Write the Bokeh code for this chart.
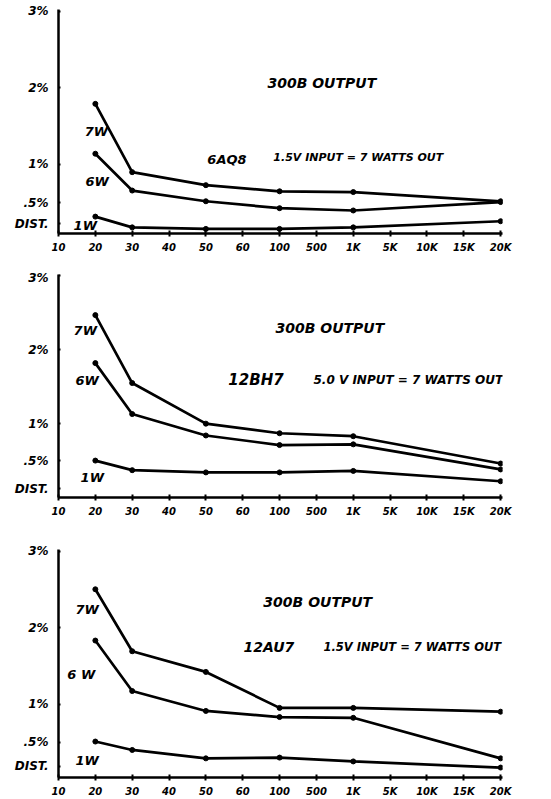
from bokeh.plotting import figure
from bokeh.layouts import column
from bokeh.models import Label, FixedTicker, Range1d
from bokeh.embed import file_html
from bokeh.resources import INLINE

# ---- data ----
freq_labels = ["10", "20", "30", "40", "50", "60", "100", "500", "1K", "5K", "10K", "15K", "20K"]
meas_freqs = ["20", "30", "50", "100", "1K", "20K"]
y_ticks = [0.5, 1, 2, 3]
y_tick_labels = [".5%", "1%", "2%", "3%"]

# panel 1: 6AQ8 driver
p1_7w = [1.79, 0.90, 0.73, 0.65, 0.64, 0.52]
p1_6w = [1.14, 0.66, 0.52, 0.43, 0.40, 0.51]
p1_1w = [0.32, 0.18, 0.16, 0.16, 0.18, 0.26]

# panel 2: 12BH7 driver
p2_7w = [2.47, 1.55, 1.00, 0.87, 0.83, 0.46]
p2_6w = [1.82, 1.13, 0.84, 0.71, 0.72, 0.38]
p2_1w = [0.50, 0.37, 0.34, 0.34, 0.36, 0.22]

# panel 3: 12AU7 driver
p3_7w = [2.50, 1.69, 1.42, 0.95, 0.95, 0.90]
p3_6w = [1.83, 1.17, 0.91, 0.83, 0.82, 0.29]
p3_1w = [0.51, 0.40, 0.29, 0.30, 0.25, 0.17]

titles = ["300B OUTPUT", "300B OUTPUT", "300B OUTPUT"]
tubes = ["6AQ8", "12BH7", "12AU7"]
drive_notes = ["1.5V INPUT = 7 WATTS OUT", "5.0 V INPUT = 7 WATTS OUT", "1.5V INPUT = 7 WATTS OUT"]
series_names = [["7W", "6W", "1W"], ["7W", "6W", "1W"], ["7W", "6 W", "1W"]]
dist_label = "DIST."

FONT = "DejaVu Sans"

xs = [freq_labels.index(f) for f in meas_freqs]


def panel(series, names, height, top, bottom, yr, title, tube, tube_size, note, note_size,
          tpos, npos, tubepos, namepos, dist_y):
    p = figure(width=551, height=height, output_backend="svg", toolbar_location=None,
               x_range=Range1d(0, 12.05), y_range=Range1d(*yr),
               min_border_left=58, min_border_right=49,
               min_border_top=top, min_border_bottom=bottom)
    p.outline_line_color = None
    p.grid.visible = False
    p.background_fill_color = "white"
    p.border_fill_color = "white"

    p.xaxis.ticker = FixedTicker(ticks=list(range(len(freq_labels))))
    p.xaxis.major_label_overrides = {i: l for i, l in enumerate(freq_labels)}
    yt = [dist_y] + y_ticks
    p.yaxis.ticker = FixedTicker(ticks=yt)
    p.yaxis.major_label_overrides = {t: l for t, l in zip(yt, [dist_label] + y_tick_labels)}
    for ax in (p.xaxis, p.yaxis):
        ax.axis_line_width = 2.5
        ax.axis_line_color = "black"
        ax.major_tick_line_width = 2
        ax.major_tick_line_color = "black"
        ax.minor_tick_line_color = None
        ax.major_label_text_font = FONT
        ax.major_label_text_font_style = "bold italic"
        ax.major_label_text_color = "black"
    p.xaxis.major_tick_in = 3
    p.xaxis.major_tick_out = 3
    p.yaxis.major_tick_in = 2
    p.yaxis.major_tick_out = 0
    p.xaxis.major_label_text_font_size = "10px"
    p.xaxis.major_label_standoff = 5
    p.yaxis.major_label_text_font_size = "12px"
    p.yaxis.major_label_standoff = 10

    for vals in series:
        p.line(xs, vals, line_width=2.7, line_color="black")
        p.scatter(xs, vals, size=5, fill_color="black", line_color="black")

    def lab(x, y, text, size):
        p.add_layout(Label(x=x, y=y, text=text, text_font=FONT, text_font_size=size,
                           text_font_style="bold italic", text_color="black",
                           text_align="left", text_baseline="middle"))

    lab(tpos[0], tpos[1], title, "14px")
    lab(tubepos[0], tubepos[1], tube, tube_size)
    lab(npos[0], npos[1], note, note_size)
    for name, pos in zip(names, namepos):
        lab(pos[0], pos[1], name, "13px")
    return p


f1 = panel([p1_7w, p1_6w, p1_1w], series_names[0], 270, 9, 37, (0.10, 3.02),
           titles[0], tubes[0], "13px", drive_notes[0], "11px",
           (5.67, 2.06), (5.83, 1.09), (4.04, 1.06),
           [(0.71, 1.43), (0.73, 0.78), (0.41, 0.20)], 0.23)
f2 = panel([p2_7w, p2_6w, p2_1w], series_names[1], 270, 4, 43, (0.0, 3.02),
           titles[1], tubes[1], "15px", drive_notes[1], "12px",
           (5.89, 2.29), (6.92, 1.59), (4.61, 1.59),
           [(0.41, 2.26), (0.46, 1.59), (0.60, 0.27)], 0.12)
f3 = panel([p3_7w, p3_6w, p3_1w], series_names[2], 259, 9, 20, (0.04, 3.02),
           titles[2], tubes[2], "14px", drive_notes[2], "11.5px",
           (5.56, 2.34), (7.19, 1.75), (5.02, 1.75),
           [(0.46, 2.23), (0.24, 1.39), (0.46, 0.26)], 0.19)

layout = column(f1, f2, f3, spacing=0)
open("out.html", "w").write(file_html(layout, INLINE))
